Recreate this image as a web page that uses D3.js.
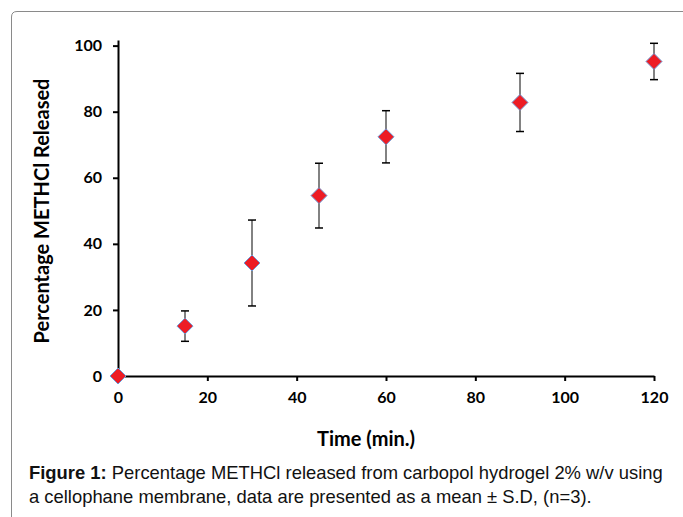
<!DOCTYPE html>
<html>
<head>
<meta charset="utf-8">
<script src="https://cdn.jsdelivr.net/npm/d3@7"></script>
<style>
  body { margin: 0; background: #fff; }
  svg { display: block; }
</style>
</head>
<body>
<svg width="683" height="517"></svg>
<script>
// release data
var times = [0, 15, 30, 45, 60, 90, 120];
var released = [0, 15.1, 34.2, 54.6, 72.4, 82.8, 95.2];
var sd = [0, 4.6, 13.0, 9.8, 7.9, 8.8, 5.5];
var xTicks = [0, 20, 40, 60, 80, 100, 120];
var yTicks = [0, 20, 40, 60, 80, 100];

var svg = d3.select("svg"),
    margin = {top: 40, left: 118},
    width = 536,
    height = 336;

// frame round the figure (open to the right and bottom, as cropped)
svg.append("path")
    .attr("d", "M11.5,517 L11.5,17 Q11.5,11.5 17,11.5 L683,11.5")
    .attr("fill", "none")
    .attr("stroke", "#8a8a8a")
    .attr("stroke-width", 1);

var x = d3.scaleLinear().domain([0, 120]).range([0, width]);
var y = d3.scaleLinear().domain([0, 101.7]).range([height, 0]);

var g = svg.append("g")
    .attr("transform", "translate(" + margin.left + "," + margin.top + ")");

var tickFont = "bold 16px Lato, 'Open Sans', sans-serif";
var titleFont = "bold 20px Lato, 'Open Sans', sans-serif";

g.append("g")
    .attr("class", "x axis")
    .attr("transform", "translate(0," + height + ")")
    .call(d3.axisBottom(x).tickValues(xTicks).tickSizeInner(5).tickSizeOuter(0).tickPadding(11));

g.append("g")
    .attr("class", "y axis")
    .call(d3.axisLeft(y).tickValues(yTicks).tickSizeInner(5).tickSizeOuter(0).tickPadding(11));

g.selectAll(".axis path, .axis line")
    .attr("stroke", "#000")
    .attr("stroke-width", 2);
g.selectAll(".axis text")
    .style("font", tickFont)
    .attr("fill", "#000");

// error bars
var pts = times.map(function (t, i) {
    return {t: t, v: released[i], s: sd[i]};
});

var bars = g.selectAll(".err")
    .data(pts.filter(function (d) { return d.s > 0; }))
    .enter().append("g")
    .attr("class", "err");

bars.append("line")
    .attr("x1", function (d) { return x(d.t); })
    .attr("x2", function (d) { return x(d.t); })
    .attr("y1", function (d) { return y(d.v + d.s); })
    .attr("y2", function (d) { return y(d.v - d.s); })
    .attr("stroke", "#595959")
    .attr("stroke-width", 1.5);

[1, -1].forEach(function (sign) {
    bars.append("line")
        .attr("x1", function (d) { return x(d.t) - 4; })
        .attr("x2", function (d) { return x(d.t) + 4; })
        .attr("y1", function (d) { return y(d.v + sign * d.s); })
        .attr("y2", function (d) { return y(d.v + sign * d.s); })
        .attr("stroke", "#000")
        .attr("stroke-width", 1.5);
});

// diamond markers
g.selectAll(".pt")
    .data(pts)
    .enter().append("path")
    .attr("class", "pt")
    .attr("d", "M0,-8 L8,0 L0,8 L-8,0 Z")
    .attr("transform", function (d) {
        return "translate(" + x(d.t) + "," + y(d.v) + ")";
    })
    .attr("fill", "#ed1c24")
    .attr("stroke", "#6f9ad6")
    .attr("stroke-width", 1);

// axis titles
svg.append("text")
    .attr("x", 366)
    .attr("y", 446)
    .attr("text-anchor", "middle")
    .style("font", titleFont)
    .text("Time (min.)");

svg.append("text")
    .attr("transform", "translate(49,211) rotate(-90)")
    .attr("text-anchor", "middle")
    .style("font", titleFont)
    .text("Percentage METHCl Released");

// caption
var cap = svg.append("text")
    .style("font", "18.4px 'Liberation Sans', Arial, sans-serif")
    .attr("fill", "#111");
var l1 = cap.append("tspan").attr("x", 29).attr("y", 479);
l1.append("tspan").style("font-weight", "bold").text("Figure 1:");
l1.append("tspan").text(" Percentage METHCl released from carbopol hydrogel 2% w/v using");
cap.append("tspan").attr("x", 29).attr("y", 503)
    .text("a cellophane membrane, data are presented as a mean \u00b1 S.D, (n=3).");
</script>
</body>
</html>
